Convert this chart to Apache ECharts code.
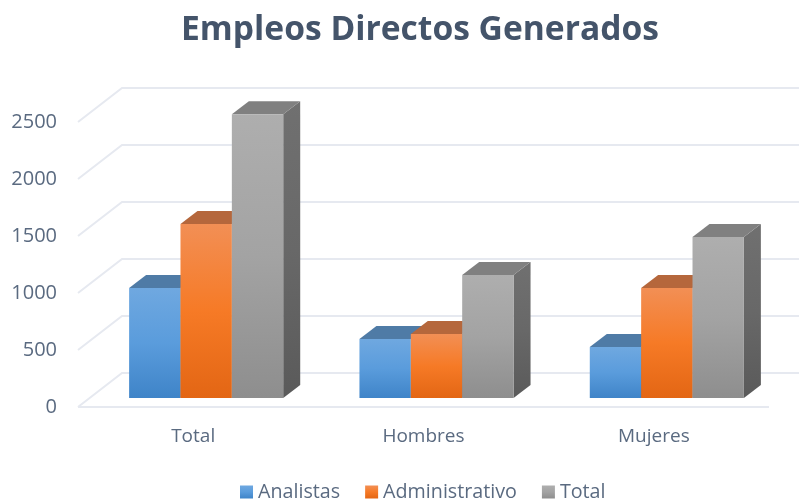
<!DOCTYPE html>
<html><head><meta charset="utf-8">
<style>html,body{margin:0;padding:0;background:#fff}#c{width:799px;height:500px}</style>
<script src="https://cdn.jsdelivr.net/npm/echarts@6/dist/echarts.min.js"></script>
</head><body><div id="c"></div>
<script>
const categories = ['Total', 'Hombres', 'Mujeres'];
const yTicks = [0, 500, 1000, 1500, 2000, 2500];
const analistas = [964, 517, 447];
const administrativo = [1526, 561, 965];
const total = [2490, 1078, 1412];

const textColor = '#5a6a80';
const gridColor = '#e6e9f0';
const fontName = 'Open Sans';
const depth = {wallX: 44, wallY: 34, barX: 13, barY: 9, sideX: 17, sideY: 13};
const barShare = 0.223;

const vgrad = (a, b, c) => ({type: 'linear', x: 0, y: 0, x2: 0, y2: 1, colorStops: [
  {offset: 0, color: a}, {offset: 0.5, color: b}, {offset: 1, color: c}]});

function wallItem(params, api) {
  const cs = params.coordSys;
  const y = api.coord([0, api.value(0)])[1];
  const left = cs.x, right = cs.x + cs.width;
  const children = [{
    type: 'polyline',
    shape: {points: [[left, y], [left + depth.wallX, y - depth.wallY], [right + depth.wallX, y - depth.wallY]]},
    style: {fill: null, stroke: gridColor, lineWidth: 2}
  }];
  if (api.value(0) === 0) {
    children.push({type: 'line', shape: {x1: left, y1: y, x2: right, y2: y},
      style: {stroke: gridColor, lineWidth: 2}});
  }
  return {type: 'group', children};
}

function barRenderer(idx, front, topFace, side) {
  return function (params, api) {
    const p = api.coord([api.value(0), api.value(1)]);
    const base = api.coord([api.value(0), 0]);
    const w = api.size([1, 0])[0] * barShare;
    const x0 = p[0] + (idx - 1.5) * w + depth.barX;
    const x1 = x0 + w;
    const yTop = p[1] - depth.barY;
    const yBot = base[1] - depth.barY;
    const dx = depth.sideX, dy = depth.sideY;
    return {type: 'group', children: [
      {type: 'polygon', shape: {points: [[x1, yTop], [x1 + dx, yTop - dy], [x1 + dx, yBot - dy], [x1, yBot]]},
        style: {fill: side}},
      {type: 'polygon', shape: {points: [[x0, yTop], [x0 + dx, yTop - dy], [x1 + dx, yTop - dy], [x1, yTop]]},
        style: {fill: topFace}},
      {type: 'rect', shape: {x: x0, y: yTop, width: w, height: yBot - yTop}, style: {fill: front}}
    ]};
  };
}

const pairs = values => values.map((v, i) => [i, v]);
const blue = vgrad('#6fa8e0', '#5a9cdc', '#3f84c8');
const orange = vgrad('#f28f55', '#f67a26', '#e36614');
const grey = vgrad('#aeaeae', '#a3a3a3', '#8e8e8e');

const chart = echarts.init(document.getElementById('c'), null, {renderer: 'canvas'});
chart.setOption({
  animation: false,
  backgroundColor: '#fff',
  textStyle: {fontFamily: fontName},
  title: {
    text: 'Empleos Directos Generados', left: 415, top: 8, textAlign: 'center',
    textStyle: {color: '#44546a', fontSize: 33.6, fontWeight: 'bold', fontFamily: fontName}
  },
  legend: {
    data: ['Analistas', 'Administrativo', 'Total'], top: 477, left: 235,
    icon: 'rect', itemWidth: 13, itemHeight: 13, itemGap: 25, selectedMode: false,
    textStyle: {color: textColor, fontSize: 19.7, fontFamily: fontName}
  },
  grid: {left: 78, right: 30, top: 122, bottom: 93},
  xAxis: {
    type: 'category', data: categories,
    axisLine: {show: false}, axisTick: {show: false},
    axisLabel: {color: textColor, fontSize: 19, margin: 20, fontFamily: fontName}
  },
  yAxis: {
    type: 'value', min: 0, max: 2500, interval: 500,
    axisLine: {show: false}, axisTick: {show: false}, splitLine: {show: false},
    axisLabel: {color: textColor, fontSize: 20, margin: 21, fontFamily: fontName, formatter: v => String(v)}
  },
  series: [
    {type: 'custom', name: 'walls', data: yTicks.map(v => [v]), renderItem: wallItem,
      encode: {y: 0}, silent: true, tooltip: {show: false}},
    {type: 'custom', name: 'Analistas', data: pairs(analistas), itemStyle: {color: blue},
      encode: {x: 0, y: 1},
      renderItem: barRenderer(0, blue, '#4f7ba6', vgrad('#4f7ba6', '#466f96', '#3c5f82'))},
    {type: 'custom', name: 'Administrativo', data: pairs(administrativo), itemStyle: {color: orange},
      encode: {x: 0, y: 1},
      renderItem: barRenderer(1, orange, '#b5673c', vgrad('#b5673c', '#a55a30', '#904c26'))},
    {type: 'custom', name: 'Total', data: pairs(total), itemStyle: {color: grey},
      encode: {x: 0, y: 1},
      renderItem: barRenderer(2, grey, '#808080', vgrad('#707070', '#686868', '#5a5a5a'))}
  ]
});
</script></body></html>
